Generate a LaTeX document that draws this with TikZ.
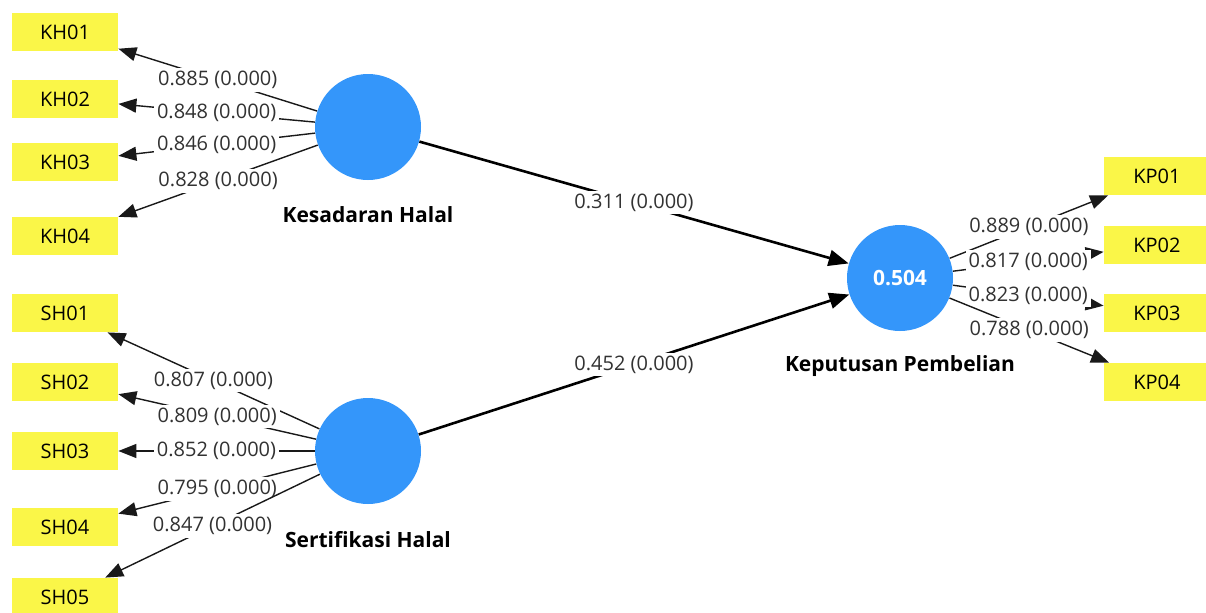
\documentclass[tikz,border=0pt]{standalone}
\usepackage{fontspec}
\setmainfont{Open Sans}
\usetikzlibrary{arrows.meta}
\definecolor{indyellow}{RGB}{250,246,72}
\definecolor{lvblue}{RGB}{52,150,250}
\definecolor{valgray}{RGB}{50,50,50}

\begin{document}
\begin{tikzpicture}[x=0.5pt,y=-0.5pt,
        indicator/.style={fill=indyellow, minimum width=53pt, minimum height=19pt, inner sep=0pt, font=\fontsize{10}{12}\selectfont},
        latent/.style={circle, fill=lvblue, minimum size=53pt, inner sep=0pt, text=white, font=\fontsize{10.5}{12}\selectfont\bfseries},
        lvname/.style={font=\fontsize{10.5}{12}\selectfont\bfseries},
        loading/.style={draw=black!90, line width=0.7pt, -{Triangle[length=9pt,width=7pt]}},
        pathcoef/.style={draw=black, line width=1.3pt, -{Triangle[length=10pt,width=8pt]}},
        coef/.style={fill=white, inner sep=1.5pt, text=valgray, font=\fontsize{10}{12}\selectfont}]
        % the page
        \useasboundingbox (0,0) rectangle (1206,612);
        \fill[white] (0,0) rectangle (1206,612);

        % the latent variables
        \node[latent] (kh) at (368,127) {};
        \node[latent] (sh) at (368,451) {};
        \node[latent] (kp) at (900,278) {0.504};
        \node[lvname] (kh-name) at (368,215) {Kesadaran Halal};
        \node[lvname] (sh-name) at (368,540) {Sertifikasi Halal};
        \node[lvname] (kp-name) at (900,366) {Keputusan Pembelian};

        % the indicators of kesadaran halal
        \node[indicator] (kh01) at (65,32) {KH01};
        \node[indicator] (kh02) at (65,99) {KH02};
        \node[indicator] (kh03) at (65,162) {KH03};
        \node[indicator] (kh04) at (65,236) {KH04};

        % the indicators of sertifikasi halal
        \node[indicator] (sh01) at (65,313) {SH01};
        \node[indicator] (sh02) at (65,382) {SH02};
        \node[indicator] (sh03) at (65,451) {SH03};
        \node[indicator] (sh04) at (65,527) {SH04};
        \node[indicator] (sh05) at (65,597) {SH05};

        % the indicators of keputusan pembelian
        \node[indicator] (kp01) at (1157,176) {KP01};
        \node[indicator] (kp02) at (1157,245) {KP02};
        \node[indicator] (kp03) at (1157,313) {KP03};
        \node[indicator] (kp04) at (1157,382) {KP04};

        % outer loadings
        \draw[loading] (kh) -- node[coef] {0.885 (0.000)} (kh01);
        \draw[loading] (kh) -- node[coef] {0.848 (0.000)} (kh02);
        \draw[loading] (kh) -- node[coef] {0.846 (0.000)} (kh03);
        \draw[loading] (kh) -- node[coef] {0.828 (0.000)} (kh04);

        \draw[loading] (sh) -- node[coef] {0.807 (0.000)} (sh01);
        \draw[loading] (sh) -- node[coef] {0.809 (0.000)} (sh02);
        \draw[loading] (sh) -- node[coef] {0.852 (0.000)} (sh03);
        \draw[loading] (sh) -- node[coef] {0.795 (0.000)} (sh04);
        \draw[loading] (sh) -- node[coef] {0.847 (0.000)} (sh05);

        \draw[loading] (kp) -- node[coef] {0.889 (0.000)} (kp01);
        \draw[loading] (kp) -- node[coef] {0.817 (0.000)} (kp02);
        \draw[loading] (kp) -- node[coef] {0.823 (0.000)} (kp03);
        \draw[loading] (kp) -- node[coef] {0.788 (0.000)} (kp04);

        % path coefficients
        \draw[pathcoef] (kh) -- node[coef] {0.311 (0.000)} (kp);
        \draw[pathcoef] (sh) -- node[coef] {0.452 (0.000)} (kp);
    \end{tikzpicture}
\end{document}
